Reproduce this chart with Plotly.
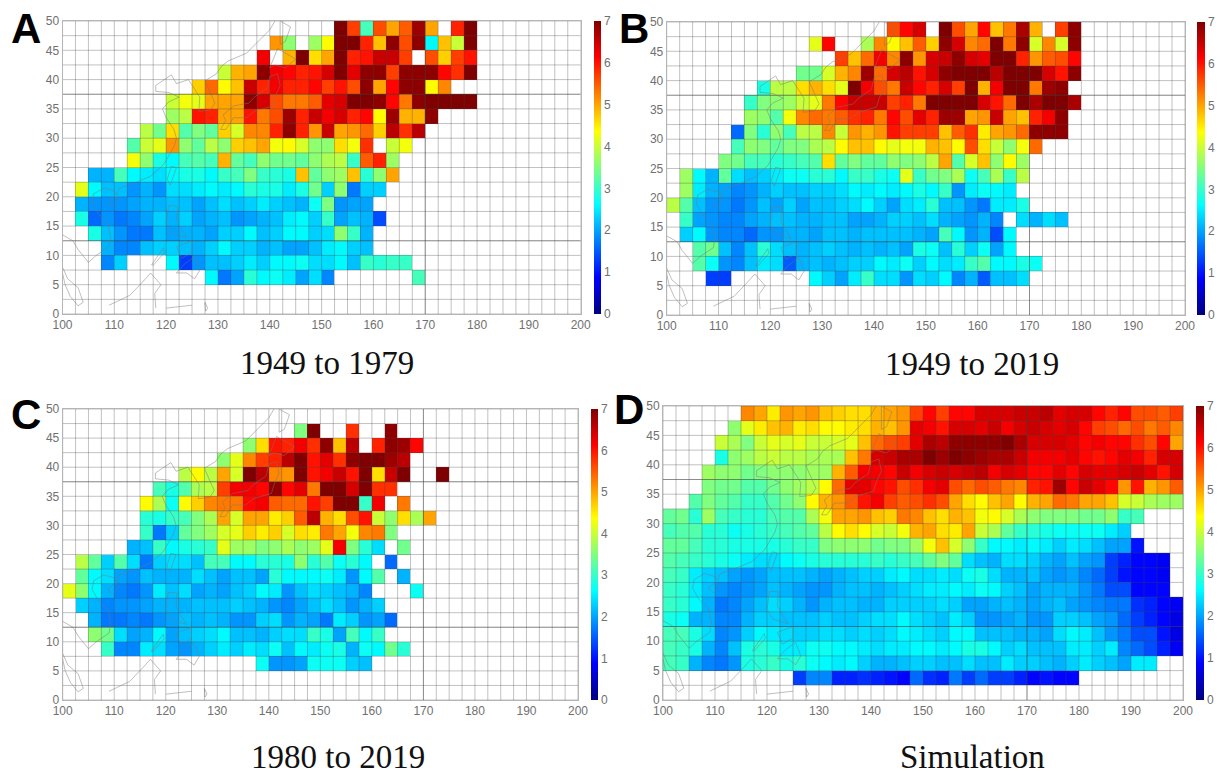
import plotly.graph_objects as go

_ = None
W, H = 1220, 775

# ---- gridded values, top row = 47.5-50N, each row starts at the column in *_START
A_START = [21, 16, 15, 12, 10, 8, 8, 6, 5, 5, 2, 1, 1, 1, 2, 3, 3, 11]
A_VALUES = [
    [7, 5.7, 3.1, 5.6, 5.0, 5.5, 6.8, 5.0, _, 5.9, 7],
    [5.1, 3.6, _, 3.7, 4.4, 7, 7, 5.9, 4.8, 6.9, 5.6, 6.9, 2.6, 4.8, 4.0, 7],
    [6.2, _, 4.9, 7, 4.6, 5.0, 7, 5.9, 6.0, 6.5, 6.5, 5.7, _, 5.6, 4.7, 5.7, 6.0],
    [4.0, 4.9, 5.0, 6.9, 6.2, 6.1, 5.9, 6.0, 6.4, 7, 6.3, 6.9, 6.9, 5.7, 6.9, 6.9, 6.9, 6.1, 5.8, 7],
    [4.7, 5.4, 4.4, 4.8, 6.5, 5.9, 6.2, 5.9, 5.9, 6.1, 5.7, 6.0, 5.6, 6.9, 5.0, 6.1, 6.9, 6.9, 4.4, 5.2],
    [4.0, 4.3, 4.2, 5.0, 5.0, 5.0, 6.9, 6.4, 5.6, 5.3, 5.3, 5.5, 6.3, 6.4, 7, 7, 6.9, 6.1, 5.3, 6.9, 7, 7, 7, 7],
    [3.7, 3.9, 6.0, 5.9, 5.0, 5.0, 6.0, 5.3, 5.6, 6.8, 5.9, 6.5, 6.2, 6.4, 5.9, 6.1, 4.4, 6.8, 4.9, 4.9, 6.9],
    [3.9, 3.4, 4.6, 3.2, 3.5, 3.3, 4.7, 4.1, 5.2, 5.2, 5.9, 6.9, 5.9, 5.1, 6.5, 5.0, 5.1, 5.4, 4.7, 6.6, 5.8, 6.6],
    [3.2, 4.0, 4.2, 5.1, 3.6, 3.3, 3.9, 3.6, 4.7, 4.8, 5.0, 4.3, 4.4, 4.1, 3.6, 3.6, 4.6, 4.3, 5.8, _, 4.0, 4.3],
    [4.3, 3.6, 2.8, 2.6, 3.1, 3.2, 3.1, 4.9, 3.3, 3.1, 3.6, 3.4, 3.4, 3.3, 3.6, 3.8, 3.9, 3.0, 5.5, 5.9, 3.7],
    [2.1, 2.1, 3.1, 2.6, 2.5, 2.4, 2.6, 2.8, 2.8, 2.6, 3.0, 3.1, 3.5, 3.0, 2.9, 2.8, 4.8, 3.3, 3.6, 3.7, 4.8, 2.9, 3.6, 5.0],
    [4.2, 2.6, 2.2, 2.2, 1.9, 2.1, 1.9, 2.4, 2.4, 2.5, 2.6, 2.5, 2.6, 2.9, 2.8, 2.8, 2.5, 2.8, 3.4, 2.3, 3.6, 1.7, 2.3, 2.3],
    [2.1, 1.9, 1.9, 1.9, 2.0, 2.1, 2.1, 2.2, 2.2, 2.0, 2.2, 2.4, 2.2, 2.3, 2.5, 2.3, 2.2, 2.1, 2.7, 3.5, 1.9, 2.0, 2.0],
    [2.8, 1.6, 1.9, 1.7, 1.8, 2.0, 2.3, 2.1, 2.3, 2.0, 2.1, 2.2, 1.9, 2.0, 2.1, 2.2, 2.5, 2.6, 2.3, 3.0, 2.0, 2.2, 2.1, 1.4],
    [2.8, 2.2, 1.9, 1.7, 1.7, 2.2, 2.0, 2.1, 2.1, 2.0, 2.3, 2.3, 2.6, 2.2, 2.3, 2.6, 2.6, 2.3, 2.4, 3.6, 3.0, 2.1],
    [2.1, 1.8, 1.8, 2.2, 2.3, 2.3, 2.2, 2.1, 2.3, 2.6, 2.3, 2.3, 2.1, 2.2, 2.0, 2.0, 2.2, 2.5, 2.6, 2.3, 2.2],
    [1.8, 2.3, _, _, _, 2.6, 1.3, 1.9, 2.2, 2.2, 2.3, 2.5, 2.3, 2.6, 2.6, 2.7, 2.4, 2.4, 2.6, 2.2, 3.0, 2.9, 3.0, 3.0],
    [2.6, 1.7, 2.0, 2.9, 2.6, 2.7, 2.5, 2.0, 2.4, 1.8, _, _, _, _, _, _, 3.1],
]

B_START = [17, 11, 13, 10, 7, 6, 6, 5, 5, 4, 1, 1, 0, 1, 1, 2, 2, 3]
B_VALUES = [
    [5.6, 6.1, 6.4, _, 7, 5.6, 5.0, 6.1, 4.8, 5.3, 6.7, 4.9, _, 5.7, 6.9],
    [4.2, 6.1, _, _, 3.8, 5.2, 4.4, 4.8, 5.5, 4.7, 6.9, 6.4, 5.2, 5.4, 7, 5.3, 6.9, 4.1, 5.2, 4.1, 6.9],
    [5.7, 4.8, 5.4, 6.2, 5.2, 6.9, 5.1, 6.4, 6.5, 6.9, 6.4, 6.3, 7, 7, 5.9, 5.1, 5.5, 5.6, 6.1],
    [3.4, 3.4, 4.1, 4.9, 5.2, 6.8, 5.4, 6.4, 6.6, 6.0, 6.4, 6.9, 7, 7, 7, 6.6, 7, 7, 7, 6.4, 6.0, 6.9],
    [2.8, 3.9, 3.9, 4.6, 4.9, 4.6, 4.2, 7, 6.2, 5.6, 5.3, 6.5, 6.1, 5.9, 6.4, 5.7, 7, 4.9, 6.2, 7, 7, 5.3, 6.8, 6.9],
    [3.0, 3.5, 3.6, 3.7, 4.0, 4.2, 5.3, 6.1, 6.5, 6.5, 6.5, 5.7, 5.9, 5.3, 7, 7, 7, 7, 6.4, 6.0, 5.4, 7, 6.7, 7, 7, 6.7],
    [3.7, 3.6, 3.2, 4.3, 5.2, 5.4, 5.3, 5.5, 5.8, 5.9, 5.3, 6.1, 5.6, 6.3, 5.9, 6.8, 6.8, 5.0, 5.1, 6.5, 5.0, 4.8, 5.9, 6.2, 6.9],
    [1.6, 3.5, 2.9, 3.6, 3.1, 3.9, 3.9, 5.2, 4.0, 5.1, 4.9, 5.1, 6.0, 5.7, 5.7, 5.7, 4.8, 5.5, 5.8, 4.5, 5.0, 5.1, 5.4, 6.9, 6.9, 6.9],
    [3.1, 3.6, 3.5, 3.3, 3.5, 3.5, 3.8, 3.9, 4.4, 4.8, 4.8, 4.4, 4.2, 4.3, 4.3, 4.9, 4.8, 4.4, 5.6, 4.6, 4.0, 3.6, 4.3, 5.4],
    [3.5, 3.4, 3.1, 3.1, 2.9, 3.0, 3.1, 3.2, 4.6, 3.3, 3.5, 3.3, 3.3, 3.6, 3.5, 3.6, 3.9, 5.0, 3.2, 4.1, 4.8, 3.6, 4.4, 3.7],
    [3.7, 2.6, 2.1, 3.3, 2.4, 2.2, 2.3, 2.5, 2.7, 2.7, 2.9, 2.9, 2.6, 3.0, 3.0, 2.8, 2.7, 4.2, 3.0, 3.4, 3.5, 3.8, 2.7, 3.1, 3.8, 3.0, 3.9],
    [3.7, 2.5, 2.1, 2.0, 1.8, 1.9, 2.1, 2.3, 2.2, 2.2, 2.3, 2.3, 2.4, 2.6, 2.5, 2.6, 2.5, 2.6, 2.8, 2.6, 3.0, 1.9, 2.5, 2.7, 2.6, 2.5],
    [3.9, 3.2, 2.2, 1.9, 1.9, 1.7, 1.9, 2.2, 2.0, 2.3, 2.0, 2.2, 2.2, 2.3, 2.4, 2.6, 2.3, 2.0, 2.4, 2.5, 2.9, 2.2, 2.2, 1.9, 1.7, 2.5, 2.5, 2.8],
    [3.0, 2.0, 1.9, 1.8, 1.8, 2.0, 2.1, 2.2, 2.2, 2.1, 2.1, 2.2, 2.2, 2.0, 2.0, 2.1, 2.3, 2.3, 2.2, 2.4, 2.1, 2.0, 1.9, 2.1, 1.8, _, 2.4, 2.1, 2.4, 2.2],
    [2.3, 2.6, 1.9, 1.8, 1.8, 1.6, 1.9, 1.9, 2.1, 2.1, 2.0, 2.2, 2.2, 2.1, 2.2, 2.2, 2.2, 2.2, 2.1, 2.0, 3.1, 2.6, 1.9, 2.1, 1.4, 2.6],
    [3.2, 3.4, 2.2, 1.8, 2.2, 2.9, 2.4, 2.2, 2.1, 2.2, 2.3, 2.2, 2.1, 2.2, 2.1, 2.2, 2.0, 2.8, 2.7, 2.2, 2.9, 2.3, 2.7, 2.0, 2.6],
    [3.2, 2.7, 1.9, 1.8, 2.2, 2.5, 2.4, 1.5, 2.1, 2.2, 2.1, 2.2, 2.3, 2.3, 2.6, 2.5, 2.7, 2.3, 2.6, 2.4, 2.5, 3.0, 3.2, 2.6, 2.6, 2.8, 2.7],
    [1.3, 1.3, _, _, _, _, _, _, 2.6, 2.3, 2.0, 2.5, 3.0, 2.4, 2.4, 1.9, 2.4, 2.3, 2.6, 1.8, 2.1, 1.5, 2.2, 2.2, 2.4],
]

C_START = [0, 18, 14, 12, 9, 7, 6, 6, 6, 5, 1, 1, 0, 1, 2, 2, 3, 15]
C_VALUES = [
    [],
    [3.5, 7, _, _, 5.8, _, _, 6.9],
    [3.6, 4.6, 6.0, 5.9, 6.2, 5.8, 6.9, 4.8, 6.6, _, 5.9, 6.9, 6.8, 6.1],
    [3.6, 4.2, 5.2, 5.7, 5.9, 6.6, 7, 6.0, 6.3, 5.8, 6.9, 7, 7, 6.8, 6.6],
    [3.9, 4.4, 3.9, 5.0, 4.1, 7, 6.6, 5.2, 5.1, 7, 6.0, 6.2, 6.5, 6.0, 7, 4.6, 6.5, 7, _, _, 7],
    [3.1, 2.8, 3.2, 3.8, 3.9, 5.7, 6.2, 6.2, 6.1, 6.9, 6.1, 6.3, 5.3, 7, 7, 6.4, 7, 5.8, 5.8],
    [4.4, 3.8, 2.7, 4.4, 4.7, 5.2, 5.3, 5.3, 6.1, 6.2, 5.5, 5.4, 5.4, 6.0, 5.7, 7, 7, 3.0, 6.2, _, 5.3],
    [2.9, 2.8, 3.0, 3.1, 3.5, 3.8, 5.0, 4.1, 5.0, 5.0, 4.5, 4.7, 5.5, 6.6, 4.9, 4.6, 5.6, 6.0, 4.0, 3.6, 4.6, 3.8, 5.0],
    [3.0, 1.7, 2.3, 3.3, 3.5, 3.7, 4.1, 4.2, 4.7, 4.5, 4.7, 4.1, 4.6, 4.5, 5.3, 5.0, 4.3, 5.2, 5.3, 3.5],
    [2.1, 2.2, 3.0, 2.6, 2.8, 2.9, 3.0, 4.2, 3.7, 3.7, 3.5, 3.6, 3.8, 3.6, 3.7, 4.2, 6.2, 3.5, 2.9, 2.4, _, 3.4],
    [3.9, 3.3, 2.3, 3.2, 2.4, 1.7, 2.3, 2.4, 2.4, 2.2, 3.1, 3.1, 2.6, 2.6, 2.9, 2.9, 2.8, 3.6, 2.9, 3.2, 2.7, 2.9, 2.6, _, 1.6],
    [3.3, 2.6, 2.4, 2.0, 1.9, 2.2, 2.1, 2.1, 2.1, 2.4, 2.2, 2.0, 2.2, 2.2, 2.0, 2.9, 2.6, 2.6, 2.6, 2.7, 2.5, 1.9, 2.6, 3.2, _, 2.1],
    [4.2, 3.6, 2.6, 2.1, 1.8, 1.7, 1.9, 2.5, 2.2, 2.4, 2.0, 2.1, 2.0, 2.2, 2.3, 2.6, 2.5, 1.9, 2.2, 2.4, 2.3, 2.2, 2.1, 1.8, _, _, _, 2.7],
    [2.3, 2.1, 1.8, 1.9, 1.9, 2.0, 2.1, 2.1, 2.1, 2.2, 2.2, 2.2, 2.3, 2.2, 2.1, 1.9, 1.8, 2.0, 2.2, 2.4, 2.2, 1.9, 2.1, 2.3],
    [2.1, 1.7, 1.7, 1.8, 1.7, 1.9, 2.0, 2.2, 2.1, 2.2, 2.1, 1.9, 1.9, 2.3, 2.4, 1.9, 2.1, 2.0, 1.7, 2.5, 2.3, 1.9, 2.0, 1.6],
    [3.6, 3.4, 2.4, 2.0, 2.1, 2.6, 2.0, 2.2, 2.3, 2.4, 2.6, 2.2, 2.2, 2.1, 2.3, 2.4, 2.4, 3.0, 2.8, 2.0, 3.1, 2.6, 3.0],
    [3.0, 1.8, 1.8, 2.5, 2.4, 2.0, 1.9, 2.1, 2.3, 2.5, 2.3, 2.5, 2.4, 2.7, 2.2, 2.6, 2.5, 2.7, 2.8, 2.1, 2.7, 2.6, 3.4, 2.9],
    [2.7, 1.9, 1.9, 2.0, 2.7, 2.7, 2.7, 2.3, 2.2],
]

D_START = [6, 5, 4, 4, 3, 3, 2, 0, 0, 0, 0, 0, 0, 0, 0, 0, 0, 0, 10]
D_VALUES = [
    [5.2, 5.0, 4.5, 5.1, 5.0, 5.1, 4.8, 4.7, 4.6, 4.6, 4.9, 5.0, 5.1, 5.7, 6.1, 5.7, 6.1, 6.1, 6.4, 6.4, 6.4, 6.5, 6.5, 6.6, 6.3, 6.4, 6.4, 6.1, 5.9, 6.1, 5.6, 5.6, 5.5, 5.7],
    [3.6, 4.2, 4.5, 4.8, 4.9, 4.5, 4.6, 4.4, 4.4, 4.5, 4.6, 4.9, 4.8, 5.1, 6.3, 6.2, 6.0, 6.4, 6.4, 6.3, 6.5, 6.2, 6.4, 6.5, 6.4, 6.3, 6.4, 6.1, 5.7, 5.6, 5.4, 5.6, 5.3, 5.5, 5.2],
    [4.0, 3.8, 3.5, 4.0, 4.2, 4.1, 4.2, 4.0, 4.0, 4.1, 4.2, 4.8, 5.4, 5.6, 5.7, 6.3, 6.7, 6.6, 6.9, 6.9, 6.9, 6.9, 7.0, 6.7, 6.4, 6.4, 6.4, 6.3, 6.1, 6.2, 6.1, 6.1, 5.8, 5.6, 6.1, 5.0],
    [2.8, 3.6, 3.7, 3.9, 4.0, 3.9, 3.9, 3.8, 3.8, 3.8, 4.8, 5.3, 6.4, 6.5, 6.7, 6.7, 7.0, 6.8, 7.0, 6.9, 6.8, 6.7, 6.7, 6.5, 6.2, 6.2, 6.2, 6.3, 6.1, 6.0, 6.1, 6.3, 6.2, 5.9, 6.4, 6.4],
    [3.7, 3.6, 3.6, 3.4, 3.5, 3.6, 3.6, 3.6, 3.7, 3.7, 4.9, 5.5, 6.2, 6.2, 6.1, 6.5, 6.2, 6.4, 6.5, 6.4, 6.5, 6.6, 6.2, 6.4, 6.3, 6.1, 6.1, 6.3, 6.1, 6.4, 6.3, 6.3, 6.4, 6.5, 6.3, 6.0, 6.4],
    [3.5, 3.4, 3.4, 3.2, 3.2, 3.4, 3.6, 3.7, 3.9, 4.4, 5.4, 6.3, 6.3, 6.1, 6.0, 5.6, 5.8, 6.2, 6.3, 5.6, 5.4, 5.6, 5.5, 5.3, 5.2, 5.9, 6.0, 6.8, 6.1, 6.5, 6.3, 6.1, 5.1, 6.0, 4.9, 5.1, 5.5],
    [3.2, 3.5, 3.3, 3.2, 3.0, 3.0, 3.2, 3.4, 3.6, 4.4, 4.9, 5.1, 5.5, 6.0, 6.2, 5.7, 5.5, 5.6, 5.8, 5.6, 5.0, 4.6, 4.4, 4.8, 5.0, 4.4, 4.9, 5.0, 5.4, 5.3, 5.0, 5.0, 4.8, 4.1, 4.0, 3.8, 3.7, 3.7],
    [3.3, 3.4, 2.9, 3.7, 3.1, 3.0, 2.9, 2.9, 3.1, 3.2, 3.2, 3.8, 4.3, 5.0, 5.0, 5.1, 4.8, 4.7, 5.3, 5.2, 4.8, 4.6, 4.9, 4.8, 4.3, 4.4, 4.1, 3.8, 3.6, 3.5, 3.5, 3.5, 3.4, 3.4, 3.6, 3.0, 3.1],
    [3.1, 3.2, 3.2, 2.9, 2.9, 2.7, 2.8, 2.9, 3.0, 3.1, 3.2, 3.3, 3.9, 4.4, 4.6, 4.4, 4.1, 4.0, 4.3, 4.9, 5.0, 4.6, 4.5, 5.0, 4.0, 3.8, 3.3, 3.0, 2.9, 2.8, 2.7, 2.7, 2.7, 2.7, 2.5, 2.3],
    [3.3, 3.3, 3.1, 2.9, 2.9, 2.8, 2.8, 2.8, 2.8, 2.9, 3.0, 3.0, 3.5, 3.6, 3.6, 3.6, 3.4, 3.5, 3.5, 3.7, 4.3, 4.8, 4.1, 3.6, 3.0, 2.6, 2.6, 2.5, 2.6, 2.5, 2.3, 2.5, 2.4, 2.2, 2.0, 2.0, 1.0],
    [3.2, 3.1, 3.0, 2.9, 2.8, 2.7, 2.5, 2.4, 2.4, 2.6, 2.7, 2.8, 2.9, 2.9, 2.9, 2.9, 3.0, 2.9, 3.0, 3.1, 3.3, 3.5, 3.3, 2.4, 2.2, 2.1, 2.4, 2.4, 2.3, 2.1, 2.0, 2.2, 2.0, 1.9, 1.3, 1.1, 0.9, 0.9, 0.8],
    [3.1, 3.0, 2.5, 2.3, 2.2, 2.0, 1.9, 2.0, 2.2, 2.2, 2.2, 2.1, 2.0, 2.1, 2.2, 2.3, 2.3, 2.5, 2.6, 2.4, 2.4, 2.5, 2.4, 2.7, 2.8, 2.4, 2.1, 2.1, 2.2, 2.0, 1.9, 2.0, 1.8, 1.6, 1.3, 1.0, 0.9, 0.9, 0.8],
    [3.0, 2.9, 2.5, 2.2, 1.9, 1.8, 1.9, 2.0, 2.2, 2.1, 2.0, 1.9, 1.9, 2.1, 2.2, 2.2, 2.1, 2.2, 2.3, 2.4, 2.5, 2.5, 2.6, 2.5, 2.7, 2.6, 2.3, 2.2, 2.0, 2.1, 2.1, 2.1, 1.9, 1.7, 1.4, 1.4, 0.9, 0.9, 0.9],
    [3.0, 2.9, 2.6, 2.1, 1.7, 1.8, 2.0, 2.2, 2.4, 2.3, 2.1, 1.9, 2.1, 2.2, 2.2, 2.1, 2.1, 2.3, 2.3, 2.3, 2.3, 2.4, 2.3, 2.0, 2.0, 2.1, 2.2, 2.1, 2.0, 2.1, 2.2, 2.0, 1.9, 1.8, 1.7, 1.7, 1.2, 1.1, 0.9, 0.8],
    [2.8, 2.7, 2.1, 2.1, 1.8, 1.8, 2.1, 2.3, 2.3, 2.2, 2.2, 2.2, 2.3, 2.2, 2.2, 2.3, 2.4, 2.4, 2.6, 2.4, 2.3, 2.2, 2.5, 2.3, 1.9, 1.9, 2.0, 2.1, 1.9, 1.9, 2.3, 2.3, 2.2, 2.0, 1.9, 1.6, 1.3, 1.1, 0.9, 0.7],
    [3.1, 3.1, 2.8, 2.4, 1.8, 1.9, 2.3, 2.6, 2.5, 2.4, 2.3, 2.3, 2.4, 2.4, 2.3, 2.4, 2.3, 2.4, 2.6, 2.5, 2.4, 2.3, 2.6, 2.6, 2.2, 2.2, 2.2, 2.1, 2.1, 2.0, 2.4, 2.6, 2.5, 2.2, 1.9, 1.7, 1.4, 1.4, 1.0, 0.7],
    [3.1, 3.0, 2.8, 2.1, 1.8, 2.2, 2.8, 2.9, 2.8, 2.5, 2.5, 2.7, 2.7, 2.6, 2.6, 2.5, 2.4, 2.5, 2.5, 2.6, 2.6, 2.5, 2.6, 2.8, 2.8, 2.6, 2.3, 2.4, 2.2, 2.2, 2.2, 2.5, 2.5, 2.3, 2.5, 1.8, 1.6, 1.4, 1.1, 0.8],
    [3.1, 3.0, 2.1, 1.8, 1.7, 1.9, 2.8, 2.9, 3.0, 2.8, 2.9, 2.7, 2.6, 2.5, 2.6, 2.3, 2.1, 2.1, 2.2, 2.3, 2.3, 2.2, 2.2, 2.4, 2.2, 2.2, 2.5, 2.3, 2.3, 2.2, 2.1, 2.3, 2.5, 2.3, 2.2, 2.0, 2.5, 2.5],
    [1.3, 1.8, 1.8, 1.1, 1.1, 1.2, 1.1, 1.0, 0.9, 1.6, 1.2, 1.1, 1.7, 1.3, 1.6, 1.3, 1.3, 1.1, 0.9, 1.0, 0.9, 0.9],
]

# ---- background coastline (lon, lat); None breaks between pieces
COAST_LON = [100, 102, 103, 105, 106.5, 109, 109.3, 108.8, 107, 105.7, 106, 108, 110, 110.5, 111, 114, 117, 119.5, 121.5, 122, 121.5, 120, 119.3, 120.5, 122.5, 120.5, 118, 118, 121, 122, 124.3, 125.2, 126.5, 126.3, 128.5, 129.4, 128, 127.5, 129.7, 130.7, 132, 135.5, 140, 141, None,
             100, 101, 103, 104, 103, 101.5, 100.5, 100, None,
             130.5, 131.5, 131, 133, 136, 137, 139.5, 140, 141.5, 142, 141, 140.5, 137, 135.5, 133, 131.5, 130.5, None,
             140, 141.5, 145, 143, 141, 140, None,
             142, 142, 144, 143, 142, None,
             120.2, 121, 122, 120.8, 120.2, None,
             108.7, 110, 111, 109.7, 108.7, None,
             120.5, 122.2, 122, 124, 121, 120, 120.5, None,
             122, 125, 125, 123, 122, None,
             122, 123.5, 125.5, 126.5, 125.5, 124, 122, None,
             117.2, 119.5, 119.7, 117.5, 117.2, None,
             109, 111.5, 113, 115.5, 117, 119, 117.8, 118, None,
             120, 122, 125, None,
             127.5, 128, 127.6, 127.5]
COAST_LAT = [13.5, 12.5, 11, 8.8, 10, 11.5, 13, 15.5, 17, 19, 20.5, 21.5, 21, 20.3, 21.5, 22.4, 23.5, 25.5, 28.5, 30, 31.5, 33.5, 35, 36.2, 37, 37.8, 38, 39, 40.8, 39.3, 40, 38.7, 37, 34.6, 34.8, 36, 39, 39.8, 41, 42.3, 43.2, 44.5, 48.5, 50, None,
             8, 6, 4.5, 2, 1.4, 3, 5, 7, None,
             31.5, 33, 34, 35.5, 36, 37, 38.5, 40.5, 41, 39, 37, 35.5, 34.6, 33.5, 33.5, 31.5, 31.5, None,
             42, 45.3, 43.5, 42, 42.5, 42, None,
             46, 50, 49, 46.5, 46, None,
             23, 25.2, 25, 22, 23, None,
             19, 20, 19.5, 18.2, 19, None,
             18.5, 18.4, 16, 13, 13.8, 15.5, 18.5, None,
             11.5, 12.5, 10.5, 9.5, 11.5, None,
             7, 8.5, 9.8, 7.5, 6, 7, 7, None,
             8.4, 11.3, 10.5, 8.3, 8.4, None,
             1.5, 2.5, 3.2, 5.5, 7, 5, 3.5, 1, None,
             1, 1.2, 1.5, None,
             2, 1, 0.5, 2]

LON_TICKS = [100, 110, 120, 130, 140, 150, 160, 170, 180, 190, 200]
LAT_TICKS = [0, 5, 10, 15, 20, 25, 30, 35, 40, 45, 50]
CBAR_TICKS = [0, 1, 2, 3, 4, 5, 6, 7]
DARK_LATS = [37.5, 12.5]
DARK_LONS = [170]
TITLES = ["1949 to 1979", "1949 to 2019", "1980 to 2019", "Simulation"]
LETTERS = ["A", "B", "C", "D"]

JET = [[0, "#00007f"], [0.125, "#0000ff"], [0.375, "#00ffff"],
       [0.625, "#ffff00"], [0.875, "#ff0000"], [1, "#7f0000"]]

# panel boxes in page pixels: left, right, top, bottom, colourbar left, colourbar width
BOXES = [(62.5, 580.7, 21, 314, 594, 7),
         (666.7, 1185, 22, 315, 1197, 8),
         (62.7, 578, 409, 700, 591, 6.5),
         (663, 1183, 406, 700, 1196, 8)]
TITLE_POS = [(327, 363), (972, 364), (338, 757), (972, 757)]
LETTER_POS = [(26, 28), (634, 28), (26, 414), (629, 409)]

NLON, NLAT = 40, 20
lons = [100 + 2.5 * i + 1.25 for i in range(NLON)]
lats = [50 - 2.5 * r - 1.25 for r in range(NLAT)]


def to_grid(starts, values):
    grid = []
    for r in range(NLAT):
        row = [None] * NLON
        if r < len(values):
            for k, v in enumerate(values[r]):
                row[starts[r] + k] = v
        grid.append(row)
    return grid


def grid_lines(lat_list, lon_list):
    xs, ys = [], []
    for la in lat_list:
        xs += [100, 200, None]
        ys += [la, la, None]
    for lo in lon_list:
        xs += [lo, lo, None]
        ys += [0, 50, None]
    return xs, ys


fig = go.Figure()
annotations = []
all_lat = [2.5 * k for k in range(21)]
all_lon = [100 + 2.5 * k for k in range(41)]
panels = [(A_START, A_VALUES), (B_START, B_VALUES), (C_START, C_VALUES), (D_START, D_VALUES)]

for n, ((starts, values), box) in enumerate(zip(panels, BOXES), start=1):
    left, right, top, bottom, cb_x, cb_w = box
    xa, ya = ("x", "y") if n == 1 else (f"x{n}", f"y{n}")
    fig.add_trace(go.Heatmap(
        x=lons, y=lats, z=to_grid(starts, values), xaxis=xa, yaxis=ya,
        zmin=0, zmax=7, colorscale=JET, hoverongaps=False,
        colorbar=dict(x=cb_x / W, xanchor="left", y=1 - top / H, yanchor="top",
                      len=bottom - top, lenmode="pixels", thickness=cb_w,
                      thicknessmode="pixels", xpad=0, ypad=0, outlinewidth=0,
                      tickvals=CBAR_TICKS, ticks="", ticklabelposition="outside",
                      tickfont=dict(family="Liberation Sans", size=12, color="#707070"))))
    gx, gy = grid_lines(all_lat, all_lon)
    fig.add_trace(go.Scatter(x=gx, y=gy, xaxis=xa, yaxis=ya, mode="lines", showlegend=False,
                             hoverinfo="skip", line=dict(color="rgba(70,70,70,0.33)", width=1)))
    dx, dy = grid_lines(DARK_LATS, DARK_LONS)
    fig.add_trace(go.Scatter(x=dx, y=dy, xaxis=xa, yaxis=ya, mode="lines", showlegend=False,
                             hoverinfo="skip", line=dict(color="rgba(60,60,60,0.4)", width=1)))
    fig.add_trace(go.Scatter(x=COAST_LON, y=COAST_LAT, xaxis=xa, yaxis=ya, mode="lines", showlegend=False,
                             hoverinfo="skip", connectgaps=False,
                             line=dict(color="rgba(120,120,120,0.6)", width=0.8)))
    suffix = "" if n == 1 else str(n)
    fig.update_layout(**{
        f"xaxis{suffix}": dict(domain=[left / W, right / W], range=[100, 200], anchor=ya,
                               tickvals=LON_TICKS, showgrid=False, zeroline=False, ticks="",
                               ticklen=2, showline=True, mirror=True, linecolor="#b5b5b5", linewidth=1,
                               tickfont=dict(family="Liberation Sans", size=12, color="#707070")),
        f"yaxis{suffix}": dict(domain=[1 - bottom / H, 1 - top / H], range=[0, 50], anchor=xa,
                               tickvals=LAT_TICKS, showgrid=False, zeroline=False, ticks="",
                               showline=True, mirror=True, linecolor="#b5b5b5", linewidth=1,
                               tickfont=dict(family="Liberation Sans", size=12, color="#707070")),
    })
    tx, ty = TITLE_POS[n - 1]
    annotations.append(dict(text=TITLES[n - 1], x=tx / W, y=1 - ty / H, xref="paper", yref="paper",
                            xanchor="center", yanchor="middle", showarrow=False,
                            font=dict(family="Liberation Serif", size=33, color="#111111")))
    lx, ly = LETTER_POS[n - 1]
    annotations.append(dict(text=f"<b>{LETTERS[n - 1]}</b>", x=lx / W, y=1 - ly / H, xref="paper", yref="paper",
                            xanchor="center", yanchor="middle", showarrow=False,
                            font=dict(family="Liberation Sans", size=42, color="#000000")))

fig.update_layout(width=W, height=H, autosize=False,
                  margin=dict(l=0, r=0, t=0, b=0, pad=0, autoexpand=False),
                  paper_bgcolor="white", plot_bgcolor="white", showlegend=False,
                  annotations=annotations)
fig.write_html("out.html", config={"displayModeBar": False},
               post_script="document.body.style.margin='0';document.body.style.overflow='hidden';")
